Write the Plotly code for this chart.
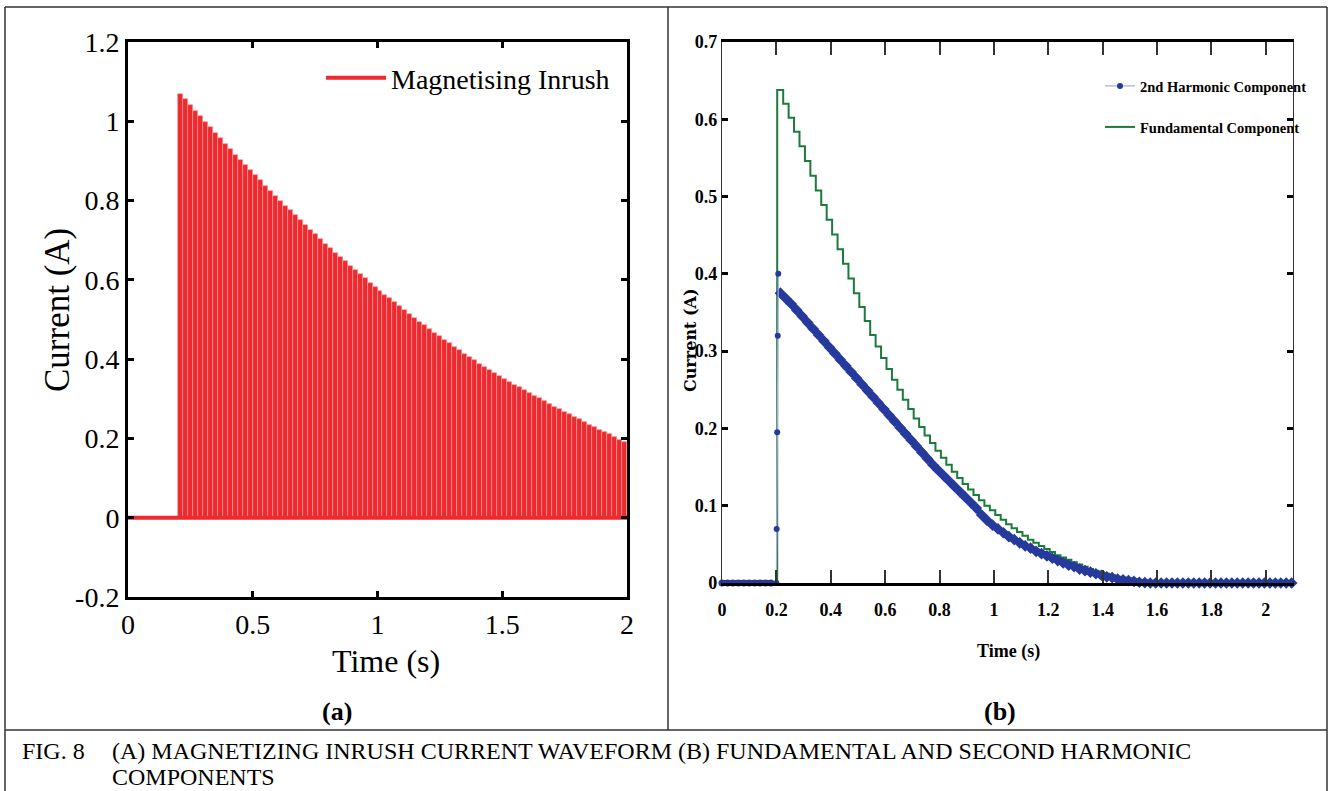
import numpy as np
import plotly.graph_objects as go

W, H = 1330, 791

# ---------------- data: panel (a) magnetising inrush ----------------
inrush_cycle_start = np.round(0.20 + 0.02 * np.arange(90), 2)  # 50 Hz cycles
inrush_peak = [
    1.070, 1.056, 1.041, 1.027, 1.013, 0.999, 0.985, 0.971, 0.957, 0.943,
    0.930, 0.916, 0.903, 0.890, 0.877, 0.864, 0.851, 0.838, 0.825, 0.812,
    0.800, 0.787, 0.775, 0.763, 0.751, 0.739, 0.727, 0.715, 0.703, 0.691,
    0.680, 0.669, 0.658, 0.647, 0.636, 0.625, 0.614, 0.604, 0.593, 0.583,
    0.573, 0.563, 0.553, 0.543, 0.533, 0.523, 0.513, 0.504, 0.494, 0.485,
    0.476, 0.467, 0.458, 0.449, 0.440, 0.431, 0.422, 0.413, 0.405, 0.397,
    0.388, 0.380, 0.373, 0.365, 0.358, 0.351, 0.343, 0.336, 0.329, 0.322,
    0.315, 0.308, 0.301, 0.294, 0.287, 0.280, 0.274, 0.267, 0.261, 0.254,
    0.248, 0.241, 0.235, 0.228, 0.222, 0.216, 0.210, 0.203, 0.197, 0.191,
]
inrush_floor_t = [0.0, 2.0]
inrush_floor_i = [0.0, 0.0]

# ---------------- data: panel (b) harmonic components ----------------
h2_pre_t = list(np.round(np.arange(0.0, 0.20, 0.02), 3))
h2_pre_v = [0.0] * len(h2_pre_t)
h2_rise_t = [0.200, 0.201, 0.203, 0.205, 0.207]
h2_rise_v = [0.0, 0.070, 0.195, 0.320, 0.400]
h2_main_t = list(np.round(0.215 + 0.02 * np.arange(95), 3))
h2_main_v = [
    0.375, 0.368, 0.361, 0.353, 0.345, 0.337, 0.329, 0.321, 0.313, 0.305,
    0.297, 0.289, 0.281, 0.273, 0.265, 0.257, 0.249, 0.241, 0.233, 0.225,
    0.217, 0.209, 0.201, 0.193, 0.185, 0.177, 0.169, 0.161, 0.153, 0.146,
    0.139, 0.132, 0.125, 0.118, 0.111, 0.104, 0.097, 0.088, 0.081, 0.075,
    0.070, 0.065, 0.060, 0.056, 0.052, 0.048, 0.045, 0.041, 0.038, 0.035,
    0.032, 0.029, 0.026, 0.023, 0.021, 0.018, 0.016, 0.014, 0.012, 0.010,
    0.008, 0.007, 0.005, 0.004, 0.003, 0.002, 0.001, 0.0005,
] + [0.0] * 27

fund_start_t = [0.0, 0.203]
fund_start_v = [0.0, 0.638]
fund_main_t = list(np.round(0.225 + 0.02 * np.arange(70), 3))
fund_main_v = [
    0.620, 0.602, 0.584, 0.565, 0.546, 0.527, 0.508, 0.489, 0.470, 0.451,
    0.432, 0.413, 0.394, 0.375, 0.357, 0.339, 0.321,
    0.306, 0.291, 0.277, 0.263, 0.250, 0.237, 0.225, 0.213, 0.202, 0.191,
    0.181, 0.171, 0.162, 0.153, 0.144, 0.136, 0.128,
    0.121, 0.114, 0.107, 0.100, 0.094, 0.088, 0.082, 0.076, 0.071, 0.066,
    0.061, 0.056, 0.052, 0.048, 0.044, 0.040,
    0.036, 0.033, 0.030, 0.027, 0.024, 0.021, 0.018, 0.016, 0.014, 0.012,
    0.010, 0.008, 0.007, 0.006, 0.005, 0.004, 0.003, 0.002, 0.001, 0.0,
]
fund_end_t = [2.1]
fund_end_v = [0.0]

assert len(inrush_peak) == len(inrush_cycle_start)
assert len(h2_main_v) == len(h2_main_t)
assert len(fund_main_v) == len(fund_main_t)

a_xticks = [0, 0.5, 1, 1.5, 2]
a_xtext = ["0", "0.5", "1", "1.5", "2"]
a_yticks = [-0.2, 0, 0.2, 0.4, 0.6, 0.8, 1.0, 1.2]
a_ytext = ["-0.2", "0", "0.2", "0.4", "0.6", "0.8", "1", "1.2"]
b_xticks = [0, 0.2, 0.4, 0.6, 0.8, 1.0, 1.2, 1.4, 1.6, 1.8, 2.0]
b_xtext = ["0", "0.2", "0.4", "0.6", "0.8", "1", "1.2", "1.4", "1.6", "1.8", "2"]
b_yticks = [0, 0.1, 0.2, 0.3, 0.4, 0.5, 0.6, 0.7]
b_ytext = ["0", "0.1", "0.2", "0.3", "0.4", "0.5", "0.6", "0.7"]

RED = "#ee2a2e"
PINK = "#f59a9c"
GREEN = "#1b7a3c"
BLUE = "#26399c"
LAV = "#a6acdc"
SERIF = "Liberation Serif, Times New Roman, serif"


def px(x):
    return x / W


def py(y):
    return 1 - y / H


fig = go.Figure()

fig.add_trace(go.Bar(
    x=inrush_cycle_start, y=inrush_peak, width=0.02, offset=0,
    marker=dict(color=RED, line=dict(width=0.7, color=PINK)), showlegend=False,
    xaxis="x", yaxis="y",
))
fig.add_trace(go.Scatter(
    x=inrush_floor_t, y=inrush_floor_i, mode="lines",
    line=dict(color=RED, width=4), name="Magnetising Inrush",
    xaxis="x", yaxis="y", legend="legend",
))

fund_t = fund_start_t + fund_main_t + fund_end_t
fund_v = fund_start_v + fund_main_v + fund_end_v
fig.add_trace(go.Scatter(
    x=fund_t, y=fund_v, mode="lines", line=dict(color=GREEN, width=2, shape="hv"),
    name="Fundamental Component", xaxis="x2", yaxis="y2", legend="legend3",
))
fig.add_trace(go.Scatter(
    x=h2_pre_t, y=h2_pre_v, mode="lines+markers",
    line=dict(color=BLUE, width=6), marker=dict(color=BLUE, size=7),
    showlegend=False, xaxis="x2", yaxis="y2", cliponaxis=False,
))
fig.add_trace(go.Scatter(
    x=h2_main_t, y=h2_main_v, mode="lines+markers",
    line=dict(color=BLUE, width=6), marker=dict(color=BLUE, size=9, symbol="diamond"),
    showlegend=False, xaxis="x2", yaxis="y2", cliponaxis=False,
))
fig.add_trace(go.Scatter(
    x=h2_rise_t, y=h2_rise_v, mode="lines+markers",
    line=dict(color=LAV, width=1.2),
    marker=dict(color=BLUE, size=6, symbol="circle"),
    name="2nd Harmonic Component", xaxis="x2", yaxis="y2", legend="legend2",
    cliponaxis=False,
))

axis_a = dict(showline=True, linewidth=3, linecolor="black", mirror="ticks",
              ticks="inside", ticklen=6, tickwidth=3, tickcolor="black",
              showgrid=False, zeroline=False, automargin=False,
              tickfont=dict(family=SERIF, size=28, color="black"))

fig.update_layout(
    template="none",
    width=W, height=H, autosize=False,
    margin=dict(l=0, r=0, t=0, b=0, pad=0, autoexpand=False),
    paper_bgcolor="white", plot_bgcolor="white",
    bargap=0,
    xaxis=dict(axis_a, domain=[px(128), px(627)], range=[0, 2],
               tickvals=a_xticks, ticktext=a_xtext, anchor="y"),
    yaxis=dict(axis_a, domain=[py(597), py(42)], range=[-0.2, 1.2],
               tickvals=a_yticks, ticktext=a_ytext, anchor="x"),
    xaxis2=dict(showline=True, linewidth=3, linecolor="black", mirror="ticks",
                ticks="inside", ticklen=13, tickwidth=1.5, tickcolor="#333",
                showgrid=False, zeroline=False, ticklabelstandoff=8, automargin=False,
                domain=[px(722), px(1293)], range=[0, 2.1],
                tickvals=b_xticks, ticktext=b_xtext, anchor="y2",
                tickfont=dict(family=SERIF, size=18, color="black", weight="bold")),
    yaxis2=dict(showline=True, linewidth=1.2, linecolor="#333", mirror="ticks",
                ticks="inside", ticklen=6, tickwidth=3, tickcolor="black",
                showgrid=False, zeroline=False, automargin=False,
                domain=[py(583), py(42)], range=[0, 0.7],
                tickvals=b_yticks, ticktext=b_ytext, anchor="x2",
                tickfont=dict(family=SERIF, size=18, color="black", weight="bold")),
    legend=dict(x=px(321), y=py(78), xanchor="left", yanchor="middle",
                bgcolor="rgba(0,0,0,0)", itemwidth=60, borderwidth=0,
                font=dict(family=SERIF, size=28, color="black")),
    legend2=dict(x=px(1100), y=py(86), xanchor="left", yanchor="middle",
                 bgcolor="rgba(0,0,0,0)", itemwidth=30, borderwidth=0,
                 font=dict(family=SERIF, size=14.5, color="black", weight="bold")),
    legend3=dict(x=px(1100), y=py(127), xanchor="left", yanchor="middle",
                 bgcolor="rgba(0,0,0,0)", itemwidth=30, borderwidth=0,
                 font=dict(family=SERIF, size=14.5, color="black", weight="bold")),
)

border = dict(color="#333", width=1.5)
shapes = [
    dict(type="line", xref="paper", yref="paper", x0=px(5), x1=px(1327), y0=py(7), y1=py(7), line=border),
    dict(type="line", xref="paper", yref="paper", x0=px(5), x1=px(5), y0=py(7), y1=0, line=border),
    dict(type="line", xref="paper", yref="paper", x0=px(1327), x1=px(1327), y0=py(7), y1=0, line=border),
    dict(type="line", xref="paper", yref="paper", x0=px(668), x1=px(668), y0=py(7), y1=py(730), line=border),
    dict(type="line", xref="paper", yref="paper", x0=px(5), x1=px(1327), y0=py(730), y1=py(730), line=border),
]
fig.update_layout(shapes=shapes)


def ann(text, x, y, size, bold=False, angle=0, xanchor="center", family=SERIF):
    t = f"<b>{text}</b>" if bold else text
    fig.add_annotation(text=t, x=px(x), y=py(y), xref="paper", yref="paper",
                       xanchor=xanchor, yanchor="middle", showarrow=False,
                       textangle=angle, font=dict(family=family, size=size, color="black"))


ann("Current (A)", 57, 310, 35, angle=-90)
ann("Time (s)", 386, 661, 32)
ann("Current (A)", 690, 340, 16, bold=True, angle=-90, family="DejaVu Serif, serif")
ann("Time (s)", 1008, 651, 18, bold=True)
ann("(a)", 337, 711, 26, bold=True)
ann("(b)", 1000, 711, 26, bold=True)
ann("FIG. 8", 20, 751, 24, xanchor="left")
ann("(A) MAGNETIZING INRUSH CURRENT WAVEFORM (B) FUNDAMENTAL AND SECOND HARMONIC", 110, 751, 24, xanchor="left")
ann("COMPONENTS", 110, 777, 24, xanchor="left")

fig.write_html("out.html")
